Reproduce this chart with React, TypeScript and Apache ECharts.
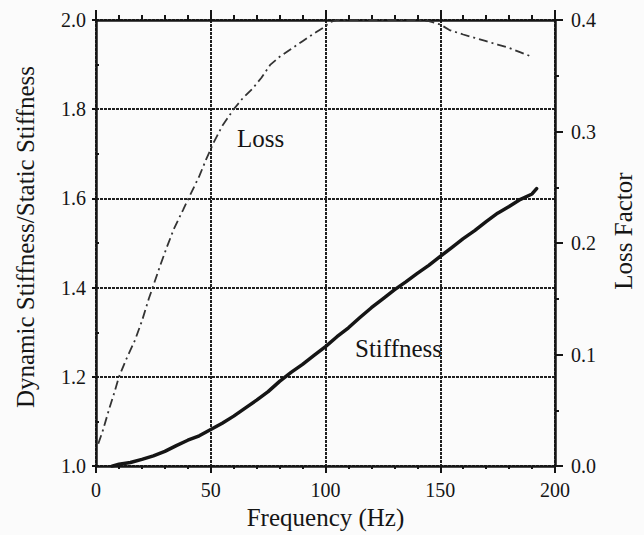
import React, { useEffect, useRef } from "react";
import * as echarts from "echarts";

// Frequency (Hz) sample points for each curve
const stiffnessFreq = [7, 10, 15, 20, 25, 30, 35, 40, 45, 50, 55, 60, 65, 70, 75, 80, 85, 90, 95, 100, 105, 110, 115, 120, 125, 130, 135, 140, 145, 150, 155, 160, 165, 170, 175, 180, 185, 190, 192];
const stiffnessValues = [1.0, 1.004, 1.008, 1.015, 1.023, 1.033, 1.046, 1.058, 1.068, 1.082, 1.096, 1.112, 1.13, 1.148, 1.167, 1.19, 1.21, 1.228, 1.248, 1.268, 1.29, 1.31, 1.333, 1.355, 1.375, 1.395, 1.413, 1.432, 1.45, 1.47, 1.49, 1.51, 1.528, 1.548, 1.567, 1.582, 1.598, 1.61, 1.622];

const lossFreq = [1, 3, 6, 8, 10, 13, 17, 20, 23, 25, 28, 31, 34, 38, 41, 45, 48, 51, 55, 60, 64, 68, 72, 76, 80, 85, 90, 95, 99, 102, 105, 110, 120, 130, 140, 145, 150, 154, 160, 165, 170, 175, 180, 185, 190];
const lossValues = [0.02, 0.032, 0.053, 0.066, 0.08, 0.095, 0.113, 0.13, 0.15, 0.162, 0.18, 0.197, 0.213, 0.23, 0.243, 0.26, 0.275, 0.289, 0.305, 0.32, 0.33, 0.338, 0.348, 0.36, 0.367, 0.374, 0.381, 0.388, 0.393, 0.398, 0.4, 0.4, 0.4, 0.4, 0.4, 0.399, 0.396, 0.391, 0.387, 0.384, 0.381, 0.378, 0.375, 0.371, 0.367];

const xTicks = [0, 50, 100, 150, 200];
const leftTicks = [1.0, 1.2, 1.4, 1.6, 1.8, 2.0];
const rightTicks = [0.0, 0.1, 0.2, 0.3, 0.4];

const xTitle = "Frequency (Hz)";
const leftTitle = "Dynamic Stiffness/Static Stiffness";
const rightTitle = "Loss Factor";
const curveLabels = ["Loss", "Stiffness"];

const FONT = "Liberation Serif, DejaVu Serif, serif";
const INK = "#151515";

export default function App() {
  const ref = useRef<HTMLDivElement>(null);

  useEffect(() => {
    document.body.style.margin = "0";
    const chart = echarts.init(ref.current!, null, { renderer: "svg" });
    const stiff = stiffnessFreq.map((f, i) => [f, stiffnessValues[i]]);
    const loss = lossFreq.map((f, i) => [f, lossValues[i]]);

    const gridStyle = { show: true, lineStyle: { color: "#202020", width: 2, type: [3, 1] as any } };
    const tickLine = { color: INK, width: 2 };

    chart.setOption({
      animation: false,
      backgroundColor: "#fbfbfb",
      textStyle: { fontFamily: FONT, color: INK },
      grid: { left: 96, right: 83, top: 20, bottom: 66, containLabel: false },
      xAxis: [
        {
          type: "value",
          position: "bottom",
          min: xTicks[0],
          max: xTicks[xTicks.length - 1],
          interval: 50,
          name: xTitle,
          nameLocation: "middle",
          nameGap: 30,
          nameTextStyle: { fontFamily: FONT, fontSize: 25, color: INK },
          axisLine: { show: true, onZero: false, lineStyle: { color: INK, width: 2.5 } },
          axisTick: { show: true, inside: false, length: 7, lineStyle: tickLine },
          minorTick: { show: true, splitNumber: 5, length: 3, lineStyle: tickLine },
          axisLabel: { fontFamily: FONT, fontSize: 20, color: INK, margin: 14 },
          splitLine: gridStyle,
        },
        {
          type: "value",
          position: "top",
          min: xTicks[0],
          max: xTicks[xTicks.length - 1],
          interval: 50,
          axisLine: { show: true, onZero: false, lineStyle: { color: INK, width: 2.5 } },
          axisTick: { show: true, inside: false, length: 10, lineStyle: tickLine },
          minorTick: { show: true, splitNumber: 5, length: 5, lineStyle: tickLine },
          axisLabel: { show: false },
          splitLine: { show: false },
        },
      ],
      yAxis: [
        {
          type: "value",
          position: "left",
          min: leftTicks[0],
          max: leftTicks[leftTicks.length - 1],
          interval: 0.2,
          name: leftTitle,
          nameLocation: "middle",
          nameGap: 58,
          nameTextStyle: { fontFamily: FONT, fontSize: 25, color: INK, padding: [0, 0, 0, 12] },
          axisLine: { show: true, onZero: false, lineStyle: { color: INK, width: 2.5 } },
          axisTick: { show: true, inside: false, length: 4, lineStyle: tickLine },
          axisLabel: {
            fontFamily: FONT,
            fontSize: 20,
            color: INK,
            margin: 10,
            formatter: (v: number) => v.toFixed(1),
          },
          splitLine: gridStyle,
        },
        {
          type: "value",
          position: "right",
          min: rightTicks[0],
          max: rightTicks[rightTicks.length - 1],
          interval: 0.1,
          name: rightTitle,
          nameLocation: "middle",
          nameGap: 56,
          nameTextStyle: { fontFamily: FONT, fontSize: 25, color: INK, padding: [0, 0, 0, 24] },
          axisLine: { show: true, onZero: false, lineStyle: { color: INK, width: 2.5 } },
          axisTick: { show: true, inside: false, length: 8, lineStyle: tickLine },
          minorTick: { show: true, splitNumber: 2, length: 4, lineStyle: tickLine },
          axisLabel: {
            fontFamily: FONT,
            fontSize: 20,
            color: INK,
            margin: 16,
            formatter: (v: number) => v.toFixed(1),
          },
          splitLine: { show: false },
        },
        {
          type: "value",
          position: "left",
          min: leftTicks[0],
          max: leftTicks[leftTicks.length - 1],
          interval: 0.2,
          axisLine: { show: false },
          axisTick: { show: false, inside: true },
          minorTick: { show: true, splitNumber: 2, length: 3, lineStyle: tickLine },
          axisLabel: { show: false },
          splitLine: { show: false },
        },
      ],
      series: [
        {
          name: curveLabels[1],
          type: "line",
          xAxisIndex: 0,
          yAxisIndex: 0,
          data: stiff,
          showSymbol: false,
          symbol: "none",
          clip: true,
          lineStyle: { color: INK, width: 3.5, cap: "round", join: "round" },
          z: 5,
        },
        {
          name: curveLabels[0],
          type: "line",
          xAxisIndex: 0,
          yAxisIndex: 1,
          data: loss,
          showSymbol: false,
          symbol: "none",
          clip: true,
          lineStyle: { color: "#333", width: 1.8, type: [9, 4, 2, 4] },
          z: 5,
        },
      ],
      graphic: [
        {
          type: "text",
          left: 237,
          top: 126,
          style: { text: curveLabels[0], fontFamily: FONT, fontSize: 25, fill: INK },
        },
        {
          type: "text",
          left: 355,
          top: 336,
          style: { text: curveLabels[1], fontFamily: FONT, fontSize: 25, fill: INK },
        },
      ],
    });

    return () => chart.dispose();
  }, []);

  return <div ref={ref} style={{ width: 644, height: 535 }} />;
}
